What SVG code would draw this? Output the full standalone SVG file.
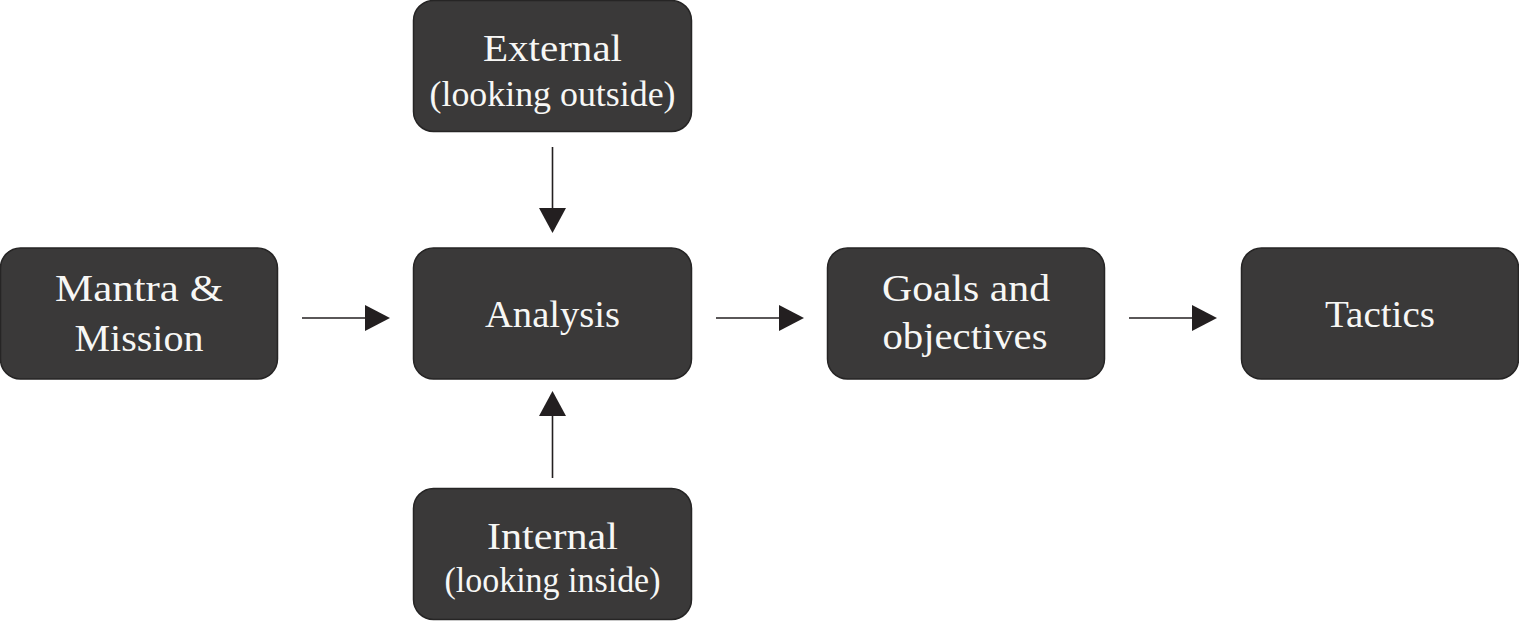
<svg xmlns="http://www.w3.org/2000/svg" width="1519" height="621" viewBox="0 0 1519 621">
<defs>
<style>
.box{fill:#3a3939;stroke:#262525;stroke-width:1.5}
.t{font-family:"Liberation Serif","Times New Roman",serif;fill:#f7f7f5;text-anchor:middle;font-size:37px}
.s{font-size:36px}
.ln{stroke:#231f20;stroke-width:1.6;fill:none}
.hd{fill:#231f20}
</style>
</defs>
<rect width="1519" height="621" fill="#ffffff"/>
<g id="node-external">
<rect class="box" x="413.5" y="0.5" width="278" height="131" rx="20"/>
<text class="t" x="552.5" y="61" textLength="139" lengthAdjust="spacingAndGlyphs">External</text>
<text class="t s" x="552.5" y="106" textLength="246" lengthAdjust="spacingAndGlyphs">(looking outside)</text>
</g>
<g id="node-mantra">
<rect class="box" x="0.5" y="248" width="277" height="131" rx="20"/>
<text class="t" x="139" y="301" textLength="168" lengthAdjust="spacingAndGlyphs">Mantra &amp;</text>
<text class="t" x="139" y="351" textLength="129" lengthAdjust="spacingAndGlyphs">Mission</text>
</g>
<g id="node-analysis">
<rect class="box" x="413.5" y="248" width="278" height="131" rx="20"/>
<text class="t" x="552.5" y="327" textLength="135" lengthAdjust="spacingAndGlyphs">Analysis</text>
</g>
<g id="node-goals">
<rect class="box" x="827.5" y="248" width="277" height="131" rx="20"/>
<text class="t" x="966" y="301" textLength="168" lengthAdjust="spacingAndGlyphs">Goals and</text>
<text class="t" x="965" y="349" textLength="165" lengthAdjust="spacingAndGlyphs">objectives</text>
</g>
<g id="node-tactics">
<rect class="box" x="1241.5" y="248" width="277" height="131" rx="20"/>
<text class="t" x="1380" y="327" textLength="110" lengthAdjust="spacingAndGlyphs">Tactics</text>
</g>
<g id="node-internal">
<rect class="box" x="413.5" y="488.5" width="278" height="131" rx="20"/>
<text class="t" x="552.5" y="549" textLength="131" lengthAdjust="spacingAndGlyphs">Internal</text>
<text class="t s" x="552.5" y="592" textLength="216" lengthAdjust="spacingAndGlyphs">(looking inside)</text>
</g>
<g id="connectors">
<line class="ln" x1="552.5" y1="147" x2="552.5" y2="210"/>
<polygon class="hd" points="539,208 566,208 552.5,233"/>
<line class="ln" x1="552.5" y1="478" x2="552.5" y2="414"/>
<polygon class="hd" points="539,416 566,416 552.5,391"/>
<line class="ln" x1="302" y1="318" x2="368" y2="318"/>
<polygon class="hd" points="365,305 365,331 390,318"/>
<line class="ln" x1="716" y1="318" x2="782" y2="318"/>
<polygon class="hd" points="779,305 779,331 804,318"/>
<line class="ln" x1="1129" y1="318" x2="1195" y2="318"/>
<polygon class="hd" points="1192,305 1192,331 1217,318"/>
</g>
</svg>
